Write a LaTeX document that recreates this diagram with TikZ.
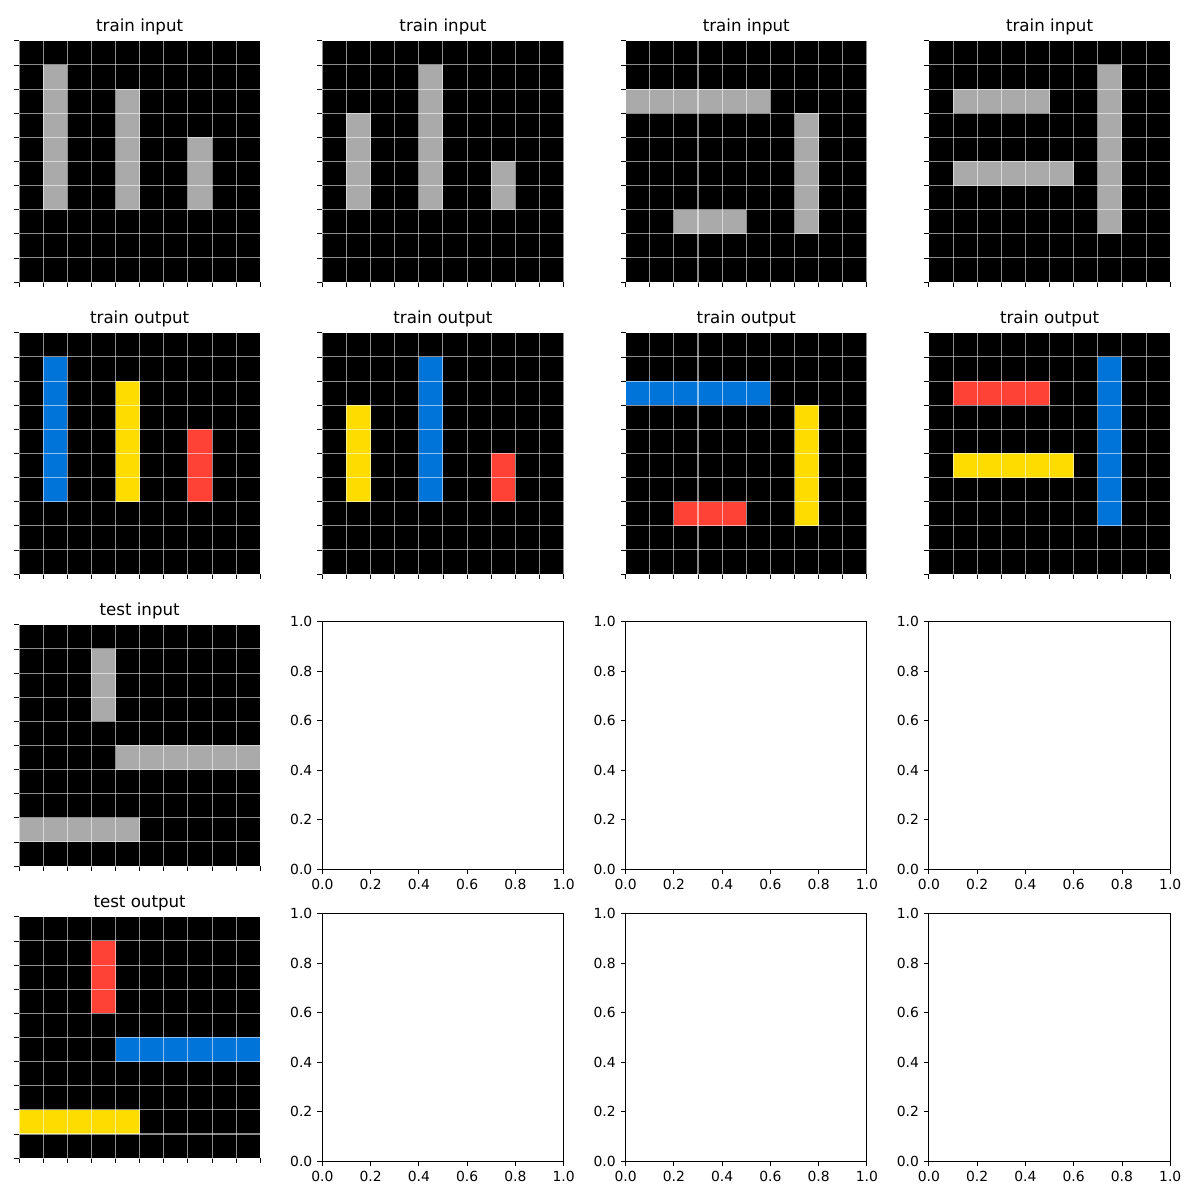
\documentclass[tikz,border=0pt]{standalone}
\usepackage{fontspec}
\setmainfont{DejaVu Sans}
\definecolor{arcblue}{HTML}{0074D9}
\definecolor{arcred}{HTML}{FF4136}
\definecolor{arcyellow}{HTML}{FFDC00}
\definecolor{arcgray}{HTML}{AAAAAA}
\tikzset{
  gridline/.style={draw=white, draw opacity=0.55, line width=0.75pt},
  tickmark/.style={draw=black, line width=0.6pt},
  spine/.style={draw=black, line width=0.6pt},
  paneltitle/.style={anchor=base, inner sep=0pt, font=\fontsize{12}{14}\selectfont},
  ticklabel/.style={inner sep=0pt, font=\fontsize{10}{12}\selectfont},
}
\newcommand\arcpanel[5]{%
\begin{scope}[shift={(#2,#3)}]
  \fill[black] (0,0) rectangle (241.3,241.3);
  \foreach \cl/\ca/\ra/\cb/\rb in {#5} {
    \fill[\cl] ({\ca*24.13},{\ra*24.13}) rectangle ({(\cb+1)*24.13},{(\rb+1)*24.13});
  }
  \foreach \i in {0,...,10} {
    \draw[gridline] ({\i*24.13},0) -- ({\i*24.13},241.3);
    \draw[gridline] (0,{\i*24.13}) -- (241.3,{\i*24.13});
    \draw[tickmark] (0,{\i*24.13}) -- ++(-4.9,0);
    \draw[tickmark] ({\i*24.13},241.3) -- ++(0,4.9);
  }
  \node[paneltitle] (#1) at (120.65,-9.0) {#4};
\end{scope}}
\newcommand\emptyaxes[3]{%
\begin{scope}[shift={(#2,#3)}]
  \draw[spine] (0,0) rectangle (241.3,248);
  \foreach \v/\t in {0/0.0,1/0.2,2/0.4,3/0.6,4/0.8,5/1.0} {
    \draw[tickmark] ({\v*241.3/5},248) -- ++(0,4.9);
    \node[ticklabel, anchor=north] (#1-x\v) at ({\v*241.3/5},257.7) {\t};
    \draw[tickmark] (0,{248-\v*248/5}) -- ++(-4.9,0);
    \node[ticklabel, anchor=east] (#1-y\v) at (-9.7,{248-\v*248/5}) {\t};
  }
\end{scope}}
\begin{document}
\begin{tikzpicture}[x=0.72pt,y=-0.72pt]
\useasboundingbox (0,0) rectangle (1200,1200);
\fill[white] (0,0) rectangle (1200,1200);
% row 1: train inputs
\arcpanel{ti1}{19.0}{40.8}{train input}{arcgray/1/1/1/6, arcgray/4/2/4/6, arcgray/7/4/7/6}
\arcpanel{ti2}{322.3}{40.8}{train input}{arcgray/1/3/1/6, arcgray/4/1/4/6, arcgray/7/5/7/6}
\arcpanel{ti3}{625.6}{40.8}{train input}{arcgray/0/2/5/2, arcgray/7/3/7/7, arcgray/2/7/4/7}
\arcpanel{ti4}{928.9}{40.8}{train input}{arcgray/1/2/4/2, arcgray/1/5/5/5, arcgray/7/1/7/7}
% row 2: train outputs
\arcpanel{to1}{19.0}{332.8}{train output}{arcblue/1/1/1/6, arcyellow/4/2/4/6, arcred/7/4/7/6}
\arcpanel{to2}{322.3}{332.8}{train output}{arcyellow/1/3/1/6, arcblue/4/1/4/6, arcred/7/5/7/6}
\arcpanel{to3}{625.6}{332.8}{train output}{arcblue/0/2/5/2, arcyellow/7/3/7/7, arcred/2/7/4/7}
\arcpanel{to4}{928.9}{332.8}{train output}{arcred/1/2/4/2, arcyellow/1/5/5/5, arcblue/7/1/7/7}
% row 3
\arcpanel{tei}{19.0}{624.8}{test input}{arcgray/3/1/3/3, arcgray/4/5/9/5, arcgray/0/8/4/8}
\emptyaxes{e32}{322.3}{621.5}
\emptyaxes{e33}{625.6}{621.5}
\emptyaxes{e34}{928.9}{621.5}
% row 4
\arcpanel{teo}{19.0}{916.8}{test output}{arcred/3/1/3/3, arcblue/4/5/9/5, arcyellow/0/8/4/8}
\emptyaxes{e42}{322.3}{913.5}
\emptyaxes{e43}{625.6}{913.5}
\emptyaxes{e44}{928.9}{913.5}
\end{tikzpicture}
\end{document}
